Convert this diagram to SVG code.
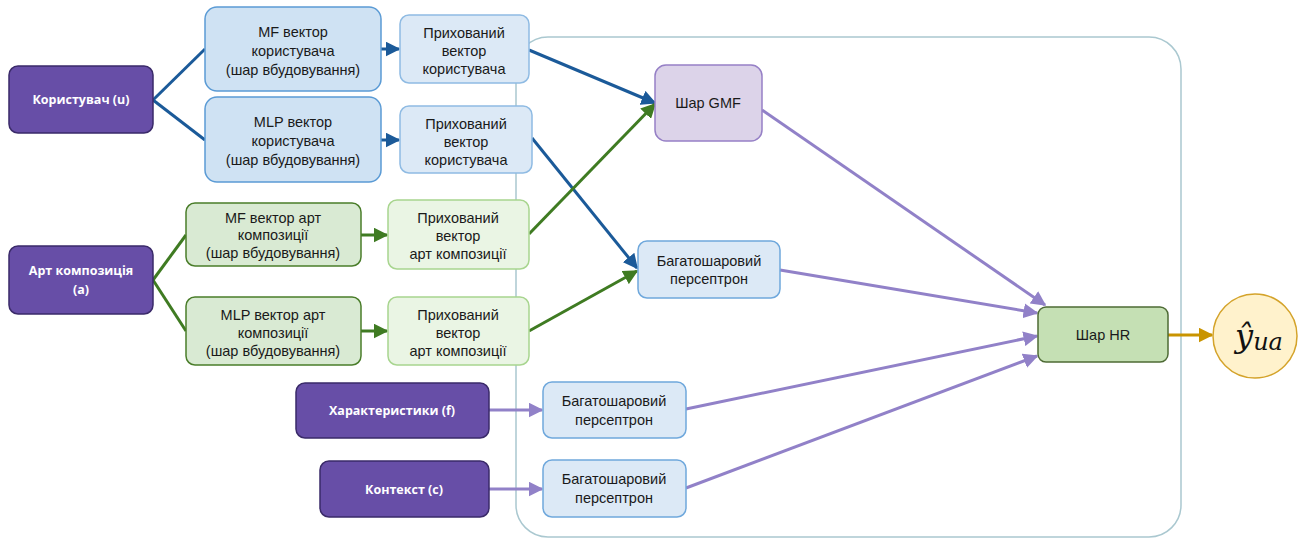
<svg xmlns="http://www.w3.org/2000/svg" width="1306" height="539" viewBox="0 0 1306 539">
<defs>
<style>
.t{font-family:"Liberation Sans",Arial,sans-serif;font-size:14.5px;fill:#1a1a1a;text-anchor:middle}
.w{font-family:"Open Sans","Noto Sans",sans-serif;font-size:12.5px;font-weight:bold;fill:#ffffff;text-anchor:middle}
.pu{fill:#674ea7;stroke:#3a2a69;stroke-width:1.5}
.bu{fill:#cfe2f3;stroke:#5b9bd5;stroke-width:1.5}
.bl{fill:#dce9f6;stroke:#8fbbe3;stroke-width:1.5}
.gr{fill:#d9ead3;stroke:#4a7d2a;stroke-width:1.5}
.gl{fill:#eaf5e4;stroke:#a8d58f;stroke-width:1.5}
.mlp{fill:#dce9f6;stroke:#6fa8dc;stroke-width:1.5}
.cb{stroke:#1b5a99;stroke-width:3;fill:none}
.cg{stroke:#3f7b22;stroke-width:3;fill:none}
.cp{stroke:#9181c8;stroke-width:3;fill:none}
.co{stroke:#c99400;stroke-width:3;fill:none}
</style>
<marker id="ab" viewBox="0 0 10 10" refX="9" refY="5" markerWidth="5" markerHeight="5" orient="auto" markerUnits="strokeWidth"><path d="M0,0 L10,5 L0,10 Z" fill="#1b5a99"/></marker>
<marker id="ag" viewBox="0 0 10 10" refX="9" refY="5" markerWidth="5" markerHeight="5" orient="auto" markerUnits="strokeWidth"><path d="M0,0 L10,5 L0,10 Z" fill="#3f7b22"/></marker>
<marker id="ap" viewBox="0 0 10 10" refX="9" refY="5" markerWidth="5" markerHeight="5" orient="auto" markerUnits="strokeWidth"><path d="M0,0 L10,5 L0,10 Z" fill="#9181c8"/></marker>
<marker id="ao" viewBox="0 0 10 10" refX="9" refY="5" markerWidth="5" markerHeight="5" orient="auto" markerUnits="strokeWidth"><path d="M0,0 L10,5 L0,10 Z" fill="#c99400"/></marker>
</defs>
<rect width="1306" height="539" fill="#ffffff"/>
<g id="container"><rect x="516" y="37" width="665" height="500" rx="32" fill="none" stroke="#aac8d0" stroke-width="1.5"/></g>

<g id="connectors">
<path class="cb" d="M153,100 L205,49"/>
<path class="cb" d="M153,100 L205,140"/>
<path class="cb" d="M381,49 L399,49" marker-end="url(#ab)"/>
<path class="cb" d="M381,140 L399,140" marker-end="url(#ab)"/>
<path class="cb" d="M529,50 L655,103" marker-end="url(#ab)"/>
<path class="cb" d="M532,138 L637,268" marker-end="url(#ab)"/>
<path class="cg" d="M153,280 L186,235"/>
<path class="cg" d="M153,280 L186,331"/>
<path class="cg" d="M361,235 L387,235" marker-end="url(#ag)"/>
<path class="cg" d="M361,331 L387,331" marker-end="url(#ag)"/>
<path class="cg" d="M529,234 L655,104" marker-end="url(#ag)"/>
<path class="cg" d="M529,331 L637,271" marker-end="url(#ag)"/>
<path class="cp" d="M762,110 L1045,305" marker-end="url(#ap)"/>
<path class="cp" d="M780,270 L1037,313" marker-end="url(#ap)"/>
<path class="cp" d="M686,409 L1037,336" marker-end="url(#ap)"/>
<path class="cp" d="M686,488 L1037,356" marker-end="url(#ap)"/>
<path class="cp" d="M489,410 L542,410" marker-end="url(#ap)"/>
<path class="cp" d="M489,489 L542,489" marker-end="url(#ap)"/>
<path class="co" d="M1168,335 L1212,335" marker-end="url(#ao)"/>
</g>

<g id="user"><rect class="pu" x="9" y="66" width="144" height="67" rx="9"/><text class="w" x="81" y="104">Користувач (u)</text></g>
<g id="art"><rect class="pu" x="9" y="246" width="144" height="68" rx="9"/><text class="w" x="81" y="275">Арт композиція</text><text class="w" x="81" y="294">(a)</text></g>
<g id="feat"><rect class="pu" x="296" y="383" width="193" height="55" rx="9"/><text class="w" x="392" y="415">Характеристики (f)</text></g>
<g id="ctx"><rect class="pu" x="320" y="461" width="169" height="56" rx="9"/><text class="w" x="404" y="494">Контекст (c)</text></g>

<g id="mf-user"><rect class="bu" x="205" y="7" width="176" height="84" rx="12"/><text class="t" x="293" y="37">MF вектор</text><text class="t" x="293" y="56">користувача</text><text class="t" x="293" y="75">(шар вбудовування)</text></g>
<g id="mlp-user"><rect class="bu" x="205" y="97" width="176" height="85" rx="12"/><text class="t" x="293" y="127">MLP вектор</text><text class="t" x="293" y="146">користувача</text><text class="t" x="293" y="165">(шар вбудовування)</text></g>
<g id="hid-user1"><rect class="bl" x="400" y="15" width="129" height="68" rx="9"/><text class="t" x="464" y="38">Прихований</text><text class="t" x="464" y="56">вектор</text><text class="t" x="464" y="74">користувача</text></g>
<g id="hid-user2"><rect class="bl" x="400" y="106" width="132" height="67" rx="9"/><text class="t" x="466" y="129">Прихований</text><text class="t" x="466" y="147">вектор</text><text class="t" x="466" y="165">користувача</text></g>

<g id="mf-art"><rect class="gr" x="186" y="203" width="175" height="63" rx="9"/><text class="t" x="273" y="223">MF вектор арт</text><text class="t" x="273" y="240">композиції</text><text class="t" x="273" y="258">(шар вбудовування)</text></g>
<g id="mlp-art"><rect class="gr" x="186" y="297" width="175" height="68" rx="9"/><text class="t" x="273" y="320">MLP вектор арт</text><text class="t" x="273" y="338">композиції</text><text class="t" x="273" y="356">(шар вбудовування)</text></g>
<g id="hid-art1"><rect class="gl" x="388" y="200" width="141" height="69" rx="9"/><text class="t" x="458" y="223">Прихований</text><text class="t" x="458" y="241">вектор</text><text class="t" x="458" y="259">арт композиції</text></g>
<g id="hid-art2"><rect class="gl" x="388" y="297" width="141" height="68" rx="9"/><text class="t" x="458" y="320">Прихований</text><text class="t" x="458" y="338">вектор</text><text class="t" x="458" y="356">арт композиції</text></g>

<g id="gmf"><rect x="655" y="65" width="107" height="76" rx="11" fill="#dcd3e9" stroke="#9680c6" stroke-width="1.5"/><text class="t" x="708" y="108">Шар GMF</text></g>
<g id="mlp-mid"><rect class="mlp" x="638" y="241" width="142" height="57" rx="9"/><text class="t" x="709" y="266">Багатошаровий</text><text class="t" x="709" y="284">персептрон</text></g>
<g id="mlp-f"><rect class="mlp" x="543" y="382" width="143" height="56" rx="9"/><text class="t" x="614" y="406">Багатошаровий</text><text class="t" x="614" y="425">персептрон</text></g>
<g id="mlp-c"><rect class="mlp" x="543" y="460" width="143" height="57" rx="9"/><text class="t" x="614" y="484">Багатошаровий</text><text class="t" x="614" y="503">персептрон</text></g>
<g id="hr"><rect x="1038" y="307" width="130" height="55" rx="8" fill="#c5e0b4" stroke="#4e6b35" stroke-width="1.5"/><text class="t" x="1103" y="340">Шар HR</text></g>
<g id="out"><circle cx="1255" cy="336" r="42" fill="#fff2cc" stroke="#d4a32a" stroke-width="1.5"/><text x="1259" y="347" font-family="'DejaVu Serif','Liberation Serif',serif" font-style="italic" font-size="32" fill="#111" text-anchor="middle">ŷ<tspan font-size="24" dy="3">ua</tspan></text></g>
</svg>
